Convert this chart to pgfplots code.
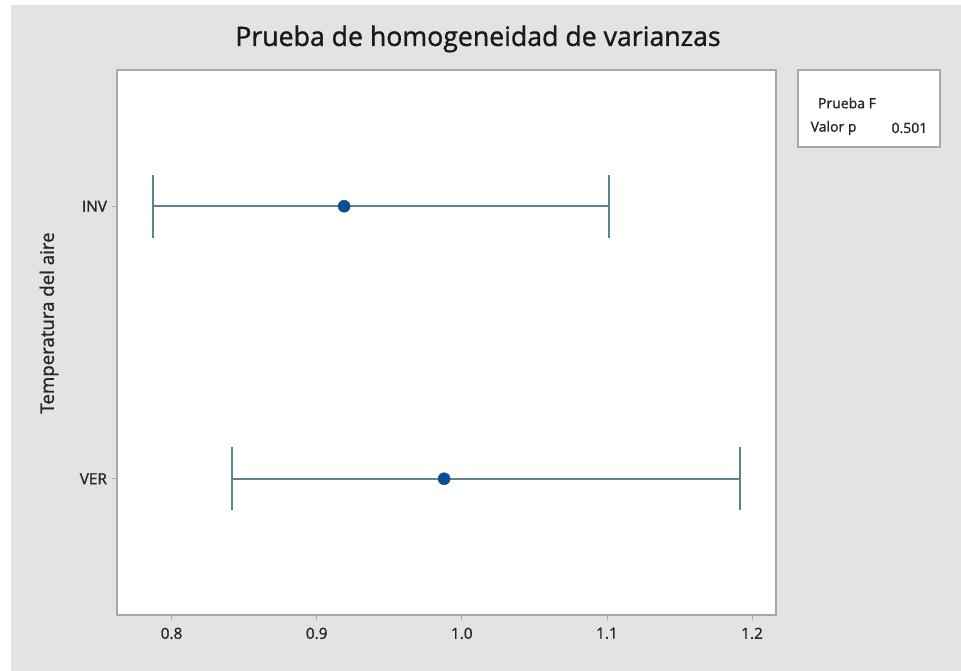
\documentclass[border=0pt]{standalone}
\usepackage{pgfplots}
\pgfplotsset{compat=1.18}
\usepackage{fontspec}
\setmainfont{Open Sans}
\newfontfamily\fb{Open Sans}[FakeBold=1.2]
\definecolor{bg}{HTML}{E3E3E3}
\definecolor{barc}{HTML}{62808F}
\definecolor{dotc}{HTML}{0B4F96}
\definecolor{framec}{HTML}{A8A8A8}
\begin{document}
\begin{tikzpicture}[x=0.75pt,y=0.75pt]
\fill[white] (0,0) rectangle (961,671);
\fill[bg] (11,0) rectangle (961,666);
\begin{axis}[
  at={(87.75pt,42pt)}, anchor=south west,
  scale only axis, width=494.25pt, height=408.75pt,
  xmin=0.7624, xmax=1.2165, ymin=0.5, ymax=2.5,
  xtick={0.8,0.9,1.0,1.1,1.2}, xticklabels={0.8,0.9,1.0,1.1,1.2},
  ytick={1,2}, yticklabels={VER,INV},
  tick align=outside, major tick length=4pt,
  tick style={framec, line width=0.6pt},
  xtick pos=bottom, ytick pos=left,
  axis line style={framec, line width=0.9pt},
  axis background/.style={fill=white},
  ticklabel style={font=\fb\fontsize{11.5}{13}\selectfont, text=black!85},
  xticklabel style={yshift=-2pt},
  clip=false,
]
% INV interval
\addplot[barc, line width=1.5pt] coordinates {(0.7872,2) (1.1015,2)};
\addplot[barc, line width=1.5pt] coordinates {(0.7872,1.884) (0.7872,2.116)};
\addplot[barc, line width=1.5pt] coordinates {(1.1015,1.884) (1.1015,2.116)};
\addplot[only marks, mark=*, mark size=4.5pt, dotc] coordinates {(0.9189,2)};
% VER interval
\addplot[barc, line width=1.5pt] coordinates {(0.8417,1) (1.1918,1)};
\addplot[barc, line width=1.5pt] coordinates {(0.8417,0.884) (0.8417,1.116)};
\addplot[barc, line width=1.5pt] coordinates {(1.1918,0.884) (1.1918,1.116)};
\addplot[only marks, mark=*, mark size=4.5pt, dotc] coordinates {(0.9878,1)};
\end{axis}
\node[font=\fb\fontsize{20}{24}\selectfont, text=black!90] at (478,632) {Prueba de homogeneidad de varianzas};
\node[font=\fb\fontsize{14}{17}\selectfont, text=black!85, rotate=90] at (49,348) {Temperatura del aire};
\draw[framec, line width=0.9pt, fill=white] (798,601) rectangle (940,524);
\node[font=\fb\fontsize{10.5}{13}\selectfont, text=black!85] at (847,568) {Prueba F};
\node[font=\fb\fontsize{10.5}{13}\selectfont, text=black!85, anchor=west] at (806,543) {Valor p};
\node[font=\fb\fontsize{10.5}{13}\selectfont, text=black!85, anchor=east] at (932,543) {0.501};
\end{tikzpicture}
\end{document}
